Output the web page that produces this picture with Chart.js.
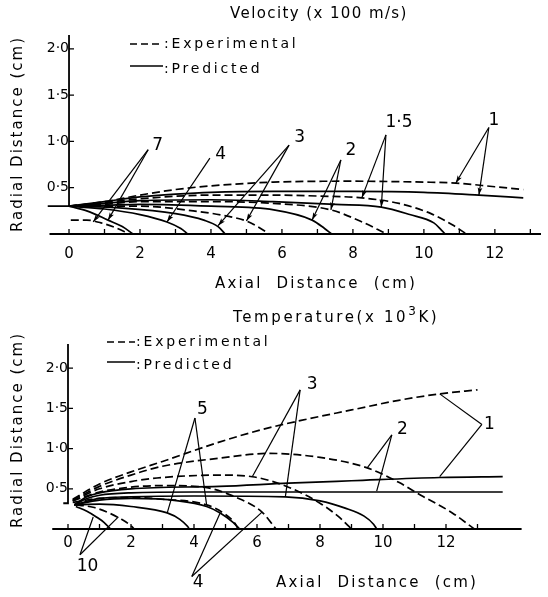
<!DOCTYPE html>
<html>
<head>
<meta charset="utf-8">
<script src="https://cdn.jsdelivr.net/npm/chart.js@4.4.0/dist/chart.umd.min.js"></script>
<style>
  html, body { margin: 0; padding: 0; background: #fff; }
  .box { position: absolute; left: 0; width: 548px; }
  #top { top: 0; height: 290px; }
  #bottom { top: 290px; height: 307px; }
</style>
</head>
<body>
<div class="box" id="top"><canvas id="velChart" width="548" height="290"></canvas></div>
<div class="box" id="bottom"><canvas id="tempChart" width="548" height="307"></canvas></div>
<script>
// axis ticks
const xTickLabels = [0, 2, 4, 6, 8, 10, 12];
const xMinorTicks = [0, 1, 2, 3, 4, 5, 6, 7, 8, 9, 10, 11, 12, 13];
const yTickLabels = [0.5, 1.0, 1.5, 2.0];

// velocity contours (x100 m/s), points are [axial cm, radial cm]
const vel1Exp = [[0,0.3],[1,0.35],[2,0.42],[3,0.48],[4,0.52],[5.75,0.56],[8,0.57],[10,0.56],[10.9,0.55],[12,0.51],[12.8,0.48]];
const vel1Pred = [[0,0.3],[1,0.35],[2,0.4],[3,0.43],[4,0.45],[5.75,0.46],[8,0.46],[10,0.45],[11.55,0.42],[12.8,0.39]];
const vel15Exp = [[0,0.3],[1,0.34],[2,0.38],[4,0.42],[5.75,0.42],[7,0.41],[8.25,0.39],[9.3,0.33],[10.2,0.22],[10.8,0.1],[11.2,0]];
const vel15Pred = [[0,0.3],[1,0.33],[2,0.36],[4,0.37],[5.75,0.35],[7.5,0.32],[8.8,0.29],[9.6,0.21],[10.28,0.12],[10.5,0.04],[10.6,0]];
const vel2Exp = [[0,0.3],[1,0.32],[2,0.35],[4,0.35],[5.75,0.33],[7.38,0.26],[8.2,0.14],[8.95,0]];
const vel2Pred = [[0,0.3],[1,0.31],[2,0.32],[4,0.3],[5.77,0.26],[6.85,0.15],[7.2,0.06],[7.4,0]];
const vel3Exp = [[0,0.3],[2,0.3],[3.5,0.25],[4.5,0.19],[5.0,0.14],[5.4,0.06],[5.65,0]];
const vel3Pred = [[0,0.3],[1.5,0.28],[3,0.22],[3.8,0.15],[4.2,0.08],[4.4,0]];
const vel4Pred = [[0,0.3],[1,0.27],[2,0.21],[2.76,0.13],[3.15,0.06],[3.35,0]];
const vel7Exp = [[0.05,0.15],[0.5,0.15],[0.9,0.12],[1.3,0.07],[1.7,0]];
const vel7Pred = [[0,0.3],[0.5,0.25],[1.1,0.15],[1.5,0.08],[1.8,0]];

// temperature contours (x10^3 K)
const temp1Exp = [[0.15,0.37],[1,0.56],[2,0.71],[3,0.84],[4.8,1.08],[6.1,1.23],[7.4,1.35],[9,1.48],[10.5,1.6],[11.8,1.68],[13,1.73]];
const temp1Pred = [[0.2,0.3],[0.6,0.4],[1,0.45],[2,0.5],[4.8,0.53],[7,0.57],[9,0.6],[11.8,0.64],[13.8,0.65]];
const temp2Exp = [[0.15,0.36],[1,0.53],[2,0.67],[3,0.78],[4.8,0.88],[6.4,0.94],[8,0.89],[9.5,0.76],[10.5,0.58],[11.2,0.42],[12.2,0.2],[12.9,0]];
const temp2Pred = [[0.2,0.3],[0.6,0.38],[1,0.42],[2,0.45],[4,0.46],[9.8,0.46],[13.8,0.46]];
const temp3Exp = [[0.15,0.35],[1,0.5],[2,0.59],[3,0.64],[4.8,0.67],[5.85,0.65],[7,0.52],[8,0.32],[8.6,0.15],[9.0,0]];
const temp3Pred = [[0.2,0.3],[1,0.38],[2,0.4],[4,0.41],[6.9,0.4],[8,0.35],[8.8,0.26],[9.4,0.16],[9.7,0.06],[9.8,0]];
const temp4Exp = [[0.15,0.35],[1,0.46],[2,0.52],[3,0.54],[4.3,0.52],[5.3,0.4],[6.16,0.21],[6.6,0]];
const temp4Pred = [[0.2,0.3],[1,0.36],[2,0.38],[3.5,0.35],[4.4,0.28],[4.83,0.2],[5.25,0.08],[5.45,0]];
const temp5Exp = [[0.15,0.33],[1,0.38],[2,0.39],[3,0.37],[4.4,0.3],[5,0.18],[5.3,0.07],[5.4,0]];
const temp5Pred = [[0.2,0.3],[1,0.31],[2,0.28],[3.15,0.2],[3.55,0.12],[3.8,0.03],[3.85,0]];
const temp10Exp = [[0.25,0.3],[0.8,0.27],[1.3,0.2],[1.7,0.12],[2.0,0.04],[2.1,0]];
const temp10Pred = [[0.25,0.28],[0.6,0.22],[0.9,0.15],[1.15,0.08],[1.35,0]];

// contour labels with leader lines: label centre, meeting point, line ends
const velNotes = [
  { text: '7', at: [2.5, 0.95], apex: [2.23, 0.91], tips: [[0.68, 0.13], [1.1, 0.15]] },
  { text: '4', at: [4.27, 0.86], apex: [3.97, 0.82], tips: [[2.76, 0.13]] },
  { text: '3', at: [6.5, 1.04], apex: [6.2, 0.96], tips: [[4.2, 0.09], [5.0, 0.14]] },
  { text: '2', at: [7.94, 0.9], apex: [7.66, 0.8], tips: [[6.85, 0.15], [7.38, 0.26]] },
  { text: '1·5', at: [9.3, 1.2], apex: [8.93, 1.07], tips: [[8.25, 0.39], [8.8, 0.29]] },
  { text: '1', at: [11.97, 1.23], apex: [11.83, 1.15], tips: [[10.9, 0.55], [11.55, 0.42]] }
];
const tempNotes = [
  { text: '1', at: [13.38, 1.3], apex: [13.14, 1.3], tips: [[11.8, 1.68], [11.8, 0.65]] },
  { text: '2', at: [10.62, 1.24], apex: [10.28, 1.17], tips: [[9.5, 0.76], [9.8, 0.47]] },
  { text: '3', at: [7.75, 1.79], apex: [7.37, 1.73], tips: [[5.85, 0.65], [6.9, 0.4]] },
  { text: '5', at: [4.27, 1.49], apex: [4.03, 1.38], tips: [[3.15, 0.2], [4.4, 0.3]] },
  { text: '4', at: [4.13, -0.67], apex: [3.93, -0.59], tips: [[4.83, 0.2], [6.16, 0.21]] },
  { text: '10', at: [0.62, -0.47], apex: [0.38, -0.32], tips: [[0.8, 0.15], [1.6, 0.15]] }
];

const FONT = '"DejaVu Sans", sans-serif';
const INK = '#000';

function series(points, dashed) {
  return {
    data: points.map(([x, y]) => ({ x, y })),
    borderColor: '#000',
    borderWidth: 1.7,
    borderDash: dashed ? [8, 4] : [],
    pointRadius: 0,
    cubicInterpolationMode: 'monotone',
    fill: false
  };
}

function label(ctx, s, x, y, size, spacing, align) {
  ctx.font = size + 'px ' + FONT;
  ctx.letterSpacing = spacing + 'px';
  ctx.textAlign = align || 'center';
  ctx.textBaseline = 'middle';
  ctx.fillText(s, x, y);
}

const frame = {
  id: 'frame',
  afterDatasetsDraw(chart, args, o) {
    const { ctx, scales: { x, y } } = chart;
    const px = v => x.getPixelForValue(v);
    const py = v => y.getPixelForValue(v);
    ctx.save();
    ctx.strokeStyle = '#000';
    ctx.fillStyle = INK;
    ctx.setLineDash([]);

    // axes
    ctx.lineWidth = 1.8;
    ctx.beginPath();
    ctx.moveTo(px(x.min), py(0));
    ctx.lineTo(px(x.max), py(0));
    ctx.moveTo(px(o.lip), py(o.axisFrom));
    ctx.lineTo(px(0), py(o.axisFrom));
    ctx.lineTo(px(0), py(o.axisTo));
    ctx.stroke();
    ctx.lineWidth = 1.3;
    ctx.beginPath();
    xMinorTicks.forEach(v => { ctx.moveTo(px(v), py(0)); ctx.lineTo(px(v), py(0) - 5); });
    yTickLabels.forEach(v => { ctx.moveTo(px(0), py(v)); ctx.lineTo(px(0) + 5, py(v)); });
    ctx.stroke();

    // contour labels
    ctx.lineWidth = 1.2;
    o.notes.forEach(n => {
      const ax = px(n.apex[0]), ay = py(n.apex[1]);
      n.tips.forEach(t => {
        const tx = px(t[0]), ty = py(t[1]);
        ctx.beginPath();
        ctx.moveTo(ax, ay);
        ctx.lineTo(tx, ty);
        ctx.stroke();
        if (o.arrows) {
          const a = Math.atan2(ty - ay, tx - ax);
          ctx.beginPath();
          ctx.moveTo(tx, ty);
          ctx.lineTo(tx - 8 * Math.cos(a - 0.3), ty - 8 * Math.sin(a - 0.3));
          ctx.lineTo(tx - 6 * Math.cos(a), ty - 6 * Math.sin(a));
          ctx.lineTo(tx - 8 * Math.cos(a + 0.3), ty - 8 * Math.sin(a + 0.3));
          ctx.closePath();
          ctx.fill();
        }
      });
      label(ctx, n.text, px(n.at[0]), py(n.at[1]), 17, 0);
    });

    // title
    const t = o.title;
    ctx.letterSpacing = t.spacing + 'px';
    ctx.textAlign = 'left';
    ctx.textBaseline = 'middle';
    let cx = t.x;
    t.parts.forEach(p => {
      ctx.font = (p.sup ? 12 : 15) + 'px ' + FONT;
      ctx.fillText(p.s, cx, t.y - (p.sup ? 6 : 0));
      cx += ctx.measureText(p.s).width;
    });

    // legend
    const g = o.legend;
    ctx.lineWidth = 1.5;
    ctx.setLineDash([7, 4]);
    ctx.beginPath(); ctx.moveTo(g.x, g.y1); ctx.lineTo(g.x + g.w, g.y1); ctx.stroke();
    ctx.setLineDash([]);
    ctx.beginPath(); ctx.moveTo(g.x, g.y2); ctx.lineTo(g.x + g.w, g.y2); ctx.stroke();
    label(ctx, ':Experimental', g.x + g.w + 1, g.y1, 14, 2.8, 'left');
    label(ctx, ':Predicted', g.x + g.w + 1, g.y2 + 3, 14, 2.8, 'left');

    // axis titles
    label(ctx, 'Axial  Distance  (cm)', o.xTitle[0], o.xTitle[1], 15, 2.2);
    ctx.translate(o.yTitle[0], o.yTitle[1]);
    ctx.rotate(-Math.PI / 2);
    label(ctx, 'Radial Distance (cm)', 0, 0, 15, 2);
    ctx.restore();
  }
};

function makeChart(id, sets, xMax, pad, pad2, opts) {
  return new Chart(document.getElementById(id), {
    type: 'line',
    data: { datasets: sets },
    plugins: [frame],
    options: {
      responsive: false,
      animation: false,
      layout: { padding: pad },
      plugins: { legend: { display: false }, tooltip: { enabled: false }, frame: opts },
      scales: {
        x: {
          type: 'linear',
          position: { y: 0 },
          min: xMax[0], max: xMax[1],
          grid: { display: false, drawTicks: false },
          border: { display: false },
          afterBuildTicks: s => { s.ticks = xTickLabels.map(v => ({ value: v })); },
          ticks: { color: INK, padding: pad2[0], font: { family: FONT, size: 15 } }
        },
        y: {
          type: 'linear',
          position: { x: 0 },
          min: 0, max: 2.3,
          grid: { display: false, drawTicks: false },
          border: { display: false },
          afterBuildTicks: s => { s.ticks = yTickLabels.map(v => ({ value: v })); },
          ticks: {
            color: INK, padding: pad2[1], font: { family: FONT, size: 14 },
            callback: v => v.toFixed(1).replace('.', '·')
          }
        }
      }
    }
  });
}

makeChart('velChart', [
  series(vel1Exp, true), series(vel1Pred, false),
  series(vel15Exp, true), series(vel15Pred, false),
  series(vel2Exp, true), series(vel2Pred, false),
  series(vel3Exp, true), series(vel3Pred, false),
  series(vel4Pred, false),
  series(vel7Exp, true), series(vel7Pred, false)
], [-0.55, 13.3], { left: 49.5, right: 7, top: 21, bottom: 56 }, [11, 6], {
  notes: velNotes, arrows: true, axisFrom: 0.3, axisTo: 2.15, lip: -0.6,
  title: { x: 230, y: 14, spacing: 1.4, parts: [{ s: 'Velocity (x 100 m/s)' }] },
  legend: { x: 130, w: 33, y1: 44, y2: 66 },
  xTitle: [316, 284], yTitle: [18, 134]
});

makeChart('tempChart', [
  series(temp1Exp, true), series(temp1Pred, false),
  series(temp2Exp, true), series(temp2Pred, false),
  series(temp3Exp, true), series(temp3Pred, false),
  series(temp4Exp, true), series(temp4Pred, false),
  series(temp5Exp, true), series(temp5Pred, false),
  series(temp10Exp, true), series(temp10Pred, false)
], [-0.5, 14.4], { left: 52.25, right: 26.4, top: 54, bottom: 68 }, [5, 5], {
  notes: tempNotes, arrows: false, axisFrom: 0.32, axisTo: 2.3, lip: -0.15,
  title: { x: 233, y: 28, spacing: 2.6, parts: [{ s: 'Temperature(x 10' }, { s: '3', sup: true }, { s: 'K)' }] },
  legend: { x: 107, w: 28, y1: 52, y2: 72 },
  xTitle: [377, 293], yTitle: [18, 140]
});
</script>
</body>
</html>
